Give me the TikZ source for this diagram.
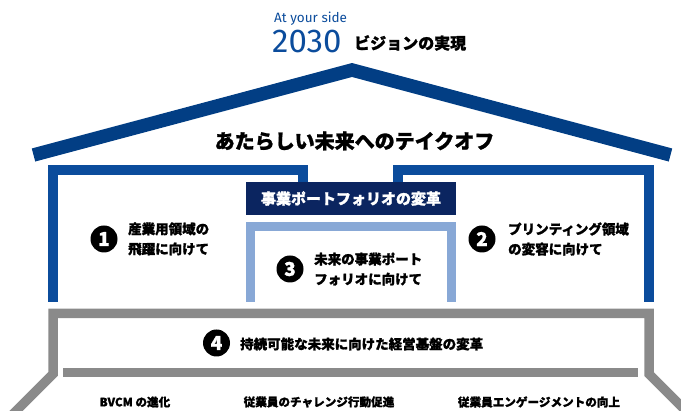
\documentclass[tikz,border=0pt]{standalone}
\usepackage{fontspec}
\setmainfont{Noto Sans CJK JP}[BoldFeatures={FakeBold=1.2}]
\newfontfamily\dinfont{Fira Sans}
\definecolor{roofblue}{HTML}{023E84}
\definecolor{wallblue}{HTML}{0B4C9C}
\definecolor{navy}{HTML}{0B2560}
\definecolor{paleblue}{HTML}{88A8D6}
\definecolor{basegray}{HTML}{8A8A8A}
\tikzset{
  jp/.style={inner sep=0pt, font=\bfseries\fontsize{#1}{#1}\selectfont},
  badge/.style={circle, fill=black, text=white, minimum size=27pt, inner sep=0pt, font=\bfseries\fontsize{19}{19}\selectfont},
  twoline/.style={anchor=west, align=left, inner sep=0pt, font=\bfseries\fontsize{13.5}{20}\selectfont}
}

\begin{document}
\begin{tikzpicture}[x=1pt,y=-1pt]
      \useasboundingbox (0,0) rectangle (681,411);
      \node[anchor=base west, inner sep=0pt, text=wallblue, font=\dinfont\fontsize{13.5}{13.5}\selectfont] (side) at (274,23) {At your side};
      \node[anchor=base west, inner sep=0pt, text=wallblue, font=\dinfont\fontsize{33}{33}\selectfont] (year) at (272,53) {2030};
      \node[jp=16, anchor=west] (vision) at (354,43) {ビジョンの実現};
      \draw[roofblue, line width=13.5pt] (33.5,155) -- (352,70) -- (670.5,155);
      \node[jp=20] (takeoff) at (354.5,141) {あたらしい未来へのテイクオフ};
      \draw[wallblue, line width=10pt] (53,302) -- (53,170) -- (303,170) -- (303,190);
      \draw[wallblue, line width=10pt] (398,190) -- (398,170) -- (648.5,170) -- (648.5,302);
      \draw[paleblue, line width=9pt] (250.5,302) -- (250.5,226.5) -- (451.5,226.5) -- (451.5,302);
      \node[jp=15, fill=navy, text=white, minimum width=210pt, minimum height=33pt] (portfolio) at (351,198.5) {事業ポートフォリオの変革};
      \node[badge] (one) at (104,239) {1};
      \node[twoline] (industry) at (128,239) {産業用領域の\\飛躍に向けて};
      \node[badge] (two) at (482,239) {2};
      \node[twoline] (printing) at (508,239) {プリンティング領域\\の変容に向けて};
      \node[badge] (three) at (290,269) {3};
      \node[twoline] (future) at (314,269) {未来の事業ポート\\フォリオに向けて};
      \draw[basegray, line width=9.5pt] (3,424) -- (53,374) -- (53,313.5) -- (649,313.5) -- (649,374) -- (699,424);
      \draw[basegray, line width=9pt] (63,372.5) -- (638,372.5);
      \node[badge] (four) at (216.5,343) {4};
      \node[jp=13.5, anchor=west] (base) at (240,344) {持続可能な未来に向けた経営基盤の変革};
      \node[jp=11.6] (bvcm) at (135,402) {BVCM の進化};
      \node[jp=11.6] (challenge) at (319,402) {従業員のチャレンジ行動促進};
      \node[jp=11.6] (engage) at (539,402) {従業員エンゲージメントの向上};
\end{tikzpicture}
\end{document}
